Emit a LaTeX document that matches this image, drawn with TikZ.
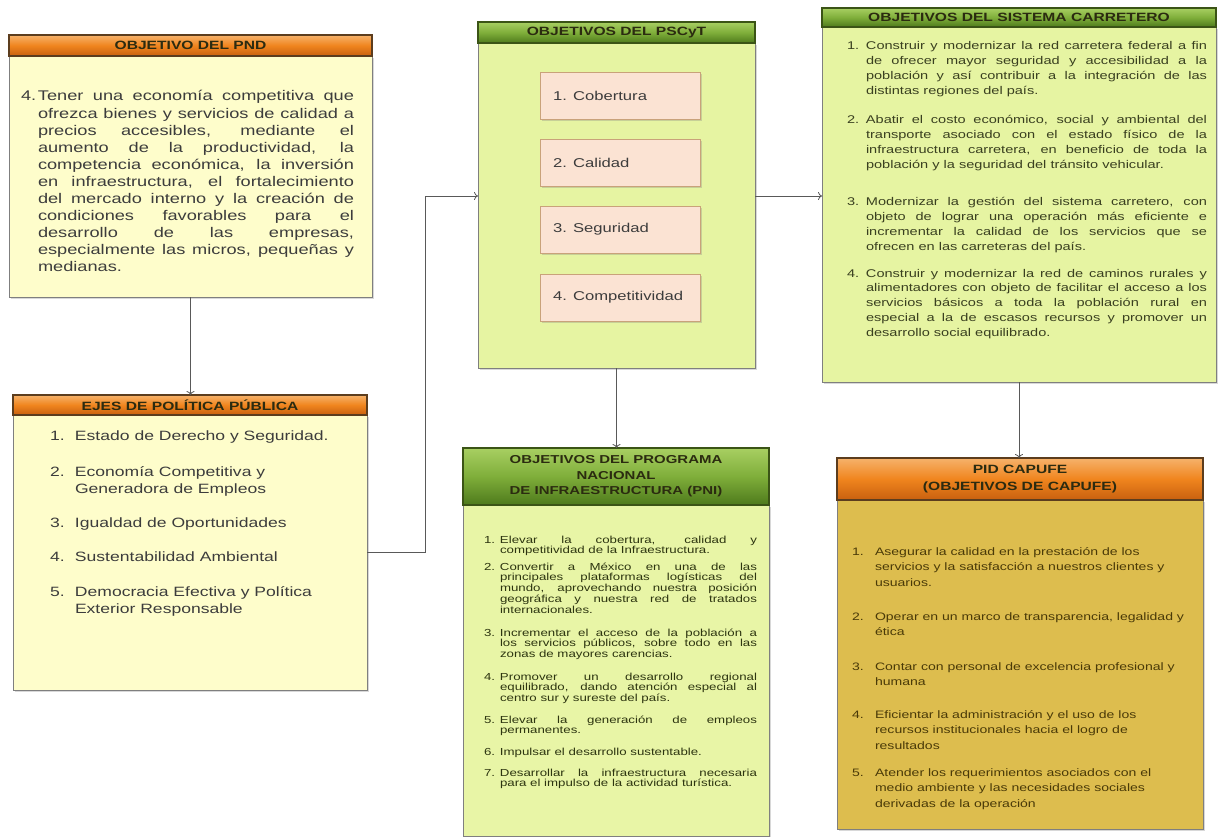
\documentclass[tikz,border=0pt]{standalone}
\usepackage{fontspec}
\setmainfont{Liberation Sans}[FakeStretch=1.3]
\usetikzlibrary{arrows.meta,shadows}
\definecolor{creamfill}{HTML}{FEFDCB}
\definecolor{greenfill}{HTML}{E6F4A2}
\definecolor{pnifill}{HTML}{E8F5A6}
\definecolor{capfill}{HTML}{DDBD4E}
\definecolor{innerfill}{HTML}{FBE3D3}
\definecolor{innerborder}{HTML}{C9A27A}
\definecolor{orTop}{HTML}{F6B26B}
\definecolor{orMid}{HTML}{F0851E}
\definecolor{orBot}{HTML}{C8600F}
\definecolor{orBorder}{HTML}{5C3D1E}
\definecolor{grTop}{HTML}{A8CF62}
\definecolor{grMid}{HTML}{7FAE3A}
\definecolor{grBot}{HTML}{4E7A1C}
\definecolor{grBorder}{HTML}{3B5416}
\definecolor{boxborder}{HTML}{7F7F7F}
\definecolor{graytext}{HTML}{3C3C3C}
\definecolor{olivetext}{HTML}{3A4020}
\definecolor{pnitext}{HTML}{2D3510}
\definecolor{captext}{HTML}{4A3A08}
\definecolor{headtext}{HTML}{2B2B10}
\definecolor{conncolor}{HTML}{595959}
\newcommand{\J}[1]{\makebox[\linewidth][s]{#1}\par}
\newcommand{\NumItem}[4]{\makebox[#1][l]{#2}\parbox[t]{#3}{#4}}
\newcommand{\InnerText}[1]{\makebox[134pt][l]{#1}}
\begin{document}
\begin{tikzpicture}[x=1pt,y=-1pt,
  every node/.style={inner sep=0pt, outer sep=0pt},
  bodybox/.style={rectangle, draw=boxborder, line width=0.8pt, anchor=north west,
    drop shadow={shadow xshift=2pt, shadow yshift=-2pt, opacity=0.3}},
  headbase/.style={rectangle, line width=1.2pt, anchor=north west, align=center,
    text=headtext, font=\fontsize{12}{15.5}\selectfont\bfseries},
  orangehead/.style={headbase, draw=orBorder, top color=orTop, bottom color=orBot, middle color=orMid},
  greenhead/.style={headbase, draw=grBorder, top color=grTop, bottom color=grBot, middle color=grMid},
  innerbox/.style={rectangle, draw=innerborder, line width=0.8pt, fill=innerfill, anchor=north west,
    minimum height=47pt, minimum width=160pt, inner xsep=13pt, text=graytext,
    font=\fontsize{12.8}{16}\selectfont,
    drop shadow={shadow xshift=2pt, shadow yshift=-2pt, opacity=0.3}},
  itembase/.style={anchor=base west},
  pnditem/.style={itembase, text=graytext, font=\fontsize{14}{17.1}\selectfont},
  ejesitem/.style={itembase, text=graytext, font=\fontsize{13.5}{17}\selectfont},
  sistitem/.style={itembase, text=olivetext, font=\fontsize{11.2}{14.8}\selectfont},
  pniitem/.style={itembase, text=pnitext, font=\fontsize{10.2}{10.8}\selectfont},
  capitem/.style={itembase, text=captext, font=\fontsize{10.8}{15.5}\selectfont},
  conn/.style={draw=conncolor, line width=0.8pt, -{To[length=4pt,width=8pt]}}
]
\useasboundingbox (0,0) rectangle (1220,837);
\fill[white] (0,0) rectangle (1220,837);

% ---------- Objetivo del PND ----------
\node[bodybox, fill=creamfill, minimum width=363pt, minimum height=241pt] (pndbody) at (9,56) {};
\node[orangehead, minimum width=363pt, minimum height=21pt] (pndhead) at (9,35) {OBJETIVO DEL PND};
\node[pnditem] (pndtext) at (21,101) {\NumItem{17pt}{4.}{316pt}{%
\J{Tener una economía competitiva que}%
\J{ofrezca bienes y servicios de calidad a}%
\J{precios accesibles, mediante el}%
\J{aumento de la productividad, la}%
\J{competencia económica, la inversión}%
\J{en infraestructura, el fortalecimiento}%
\J{del mercado interno y la creación de}%
\J{condiciones favorables para el}%
\J{desarrollo de las empresas,}%
\J{especialmente las micros, pequeñas y}%
medianas.}};

% ---------- Ejes de politica publica ----------
\node[bodybox, fill=creamfill, minimum width=354pt, minimum height=275pt] (ejesbody) at (13,415) {};
\node[orangehead, minimum width=354pt, minimum height=20pt] (ejeshead) at (13,395) {EJES DE POLÍTICA PÚBLICA};
\node[ejesitem] (ejes1) at (50,440) {\NumItem{25pt}{1.}{270pt}{Estado de Derecho y Seguridad.}};
\node[ejesitem] (ejes2) at (50,476) {\NumItem{25pt}{2.}{270pt}{Economía Competitiva y\\Generadora de Empleos}};
\node[ejesitem] (ejes3) at (50,527) {\NumItem{25pt}{3.}{270pt}{Igualdad de Oportunidades}};
\node[ejesitem] (ejes4) at (50,561) {\NumItem{25pt}{4.}{270pt}{Sustentabilidad Ambiental}};
\node[ejesitem] (ejes5) at (50,596) {\NumItem{25pt}{5.}{270pt}{Democracia Efectiva y Política\\Exterior Responsable}};

% ---------- Objetivos del PSCyT ----------
\node[bodybox, fill=greenfill, minimum width=277pt, minimum height=325pt] (pscbody) at (478,43) {};
\node[greenhead, minimum width=277pt, minimum height=21pt] (pschead) at (478,22) {OBJETIVOS DEL PSCyT};
\node[innerbox] (psc1) at (540,72) {\InnerText{1. Cobertura}};
\node[innerbox] (psc2) at (540,139) {\InnerText{2. Calidad}};
\node[innerbox] (psc3) at (540,206) {\InnerText{3. Seguridad}};
\node[innerbox] (psc4) at (540,274) {\InnerText{4. Competitividad}};

% ---------- Objetivos del sistema carretero ----------
\node[bodybox, fill=greenfill, minimum width=394pt, minimum height=355pt] (sistbody) at (822,27) {};
\node[greenhead, minimum width=394pt, minimum height=19pt] (sisthead) at (822,8) {OBJETIVOS DEL SISTEMA CARRETERO};
\node[sistitem] (sist1) at (847,50) {\NumItem{19pt}{1.}{341pt}{%
\J{Construir y modernizar la red carretera federal a fin}%
\J{de ofrecer mayor seguridad y accesibilidad a la}%
\J{población y así contribuir a la integración de las}%
distintas regiones del país.}};
\node[sistitem] (sist2) at (847,124) {\NumItem{19pt}{2.}{341pt}{%
\J{Abatir el costo económico, social y ambiental del}%
\J{transporte asociado con el estado físico de la}%
\J{infraestructura carretera, en beneficio de toda la}%
población y la seguridad del tránsito vehicular.}};
\node[sistitem] (sist3) at (847,206) {\NumItem{19pt}{3.}{341pt}{%
\J{Modernizar la gestión del sistema carretero, con}%
\J{objeto de lograr una operación más eficiente e}%
\J{incrementar la calidad de los servicios que se}%
ofrecen en las carreteras del país.}};
\node[sistitem] (sist4) at (847,277) {\NumItem{19pt}{4.}{341pt}{%
\J{Construir y modernizar la red de caminos rurales y}%
\J{alimentadores con objeto de facilitar el acceso a los}%
\J{servicios básicos a toda la población rural en}%
\J{especial a la de escasos recursos y promover un}%
desarrollo social equilibrado.}};

% ---------- Objetivos del PNI ----------
\node[bodybox, fill=pnifill, minimum width=306pt, minimum height=331pt] (pnibody) at (463,505) {};
\node[greenhead, minimum width=306pt, minimum height=57pt, font=\fontsize{11.5}{15.5}\selectfont\bfseries] (pnihead) at (463,448) {OBJETIVOS DEL PROGRAMA\\NACIONAL\\DE INFRAESTRUCTURA (PNI)};
\node[pniitem] (pni1) at (484,543) {\NumItem{16pt}{1.}{257pt}{%
\J{Elevar la cobertura, calidad y}%
competitividad de la Infraestructura.}};
\node[pniitem] (pni2) at (484,570) {\NumItem{16pt}{2.}{257pt}{%
\J{Convertir a México en una de las}%
\J{principales plataformas logísticas del}%
\J{mundo, aprovechando nuestra posición}%
\J{geográfica y nuestra red de tratados}%
internacionales.}};
\node[pniitem] (pni3) at (484,636) {\NumItem{16pt}{3.}{257pt}{%
\J{Incrementar el acceso de la población a}%
\J{los servicios públicos, sobre todo en las}%
zonas de mayores carencias.}};
\node[pniitem] (pni4) at (484,680) {\NumItem{16pt}{4.}{257pt}{%
\J{Promover un desarrollo regional}%
\J{equilibrado, dando atención especial al}%
centro sur y sureste del país.}};
\node[pniitem] (pni5) at (484,723) {\NumItem{16pt}{5.}{257pt}{%
\J{Elevar la generación de empleos}%
permanentes.}};
\node[pniitem] (pni6) at (484,755) {\NumItem{16pt}{6.}{257pt}{Impulsar el desarrollo sustentable.}};
\node[pniitem] (pni7) at (484,776) {\NumItem{16pt}{7.}{257pt}{%
\J{Desarrollar la infraestructura necesaria}%
para el impulso de la actividad turística.}};

% ---------- PID CAPUFE ----------
\node[bodybox, fill=capfill, minimum width=366pt, minimum height=329pt] (capbody) at (837,500) {};
\node[orangehead, minimum width=366pt, minimum height=42pt, font=\fontsize{12}{17}\selectfont\bfseries] (caphead) at (837,458) {PID CAPUFE\\(OBJETIVOS DE CAPUFE)};
\node[capitem] (cap1) at (852,555) {\NumItem{23pt}{1.}{320pt}{Asegurar la calidad en la prestación de los\\servicios y la satisfacción a nuestros clientes y\\usuarios.}};
\node[capitem] (cap2) at (852,620) {\NumItem{23pt}{2.}{320pt}{Operar en un marco de transparencia, legalidad y\\ética}};
\node[capitem] (cap3) at (852,670) {\NumItem{23pt}{3.}{320pt}{Contar con personal de excelencia profesional y\\humana}};
\node[capitem] (cap4) at (852,718) {\NumItem{23pt}{4.}{320pt}{Eficientar la administración y el uso de los\\recursos institucionales hacia el logro de\\resultados}};
\node[capitem] (cap5) at (852,776) {\NumItem{23pt}{5.}{320pt}{Atender los requerimientos asociados con el\\medio ambiente y las necesidades sociales\\derivadas de la operación}};

% ---------- Connectors ----------
\draw[conn] (pndbody.south) -- (pndbody.south |- ejeshead.north);
\draw[conn] (ejesbody.east) -- ++(58,0) |- ([yshift=9.5pt]pscbody.west);
\draw[conn] ([yshift=9.5pt]pscbody.east) -- ([yshift=9.5pt]pscbody.east -| sistbody.west);
\draw[conn] (pscbody.south) -- (pscbody.south |- pnihead.north);
\draw[conn] (sistbody.south) -- (sistbody.south |- caphead.north);
\end{tikzpicture}
\end{document}
